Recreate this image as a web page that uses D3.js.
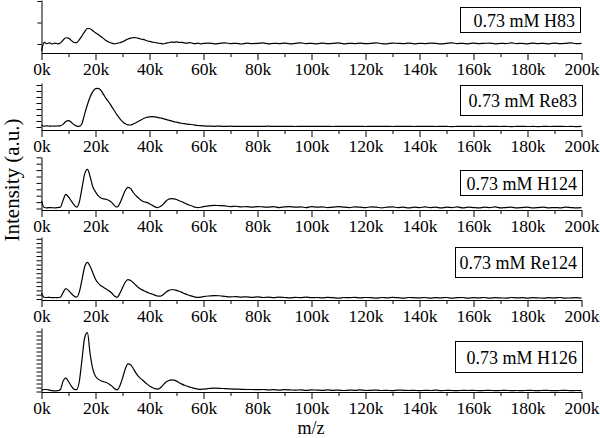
<!DOCTYPE html>
<html>
<head>
<meta charset="utf-8">
<script src="https://cdn.jsdelivr.net/npm/d3@7"></script>
<style>
  body { margin: 0; background: #fff; }
  #chart text { font-family: 'Liberation Serif', 'Times New Roman', serif !important; }
</style>
</head>
<body>
<svg id="chart" width="600" height="438"></svg>
<script>
// m/z sampling positions, in k
const mz = [0, 1, 2, 3, 4, 5, 6, 7, 8, 9, 10, 11, 12, 13, 14, 15, 16, 17, 18, 19,
  20, 21, 22, 23, 24, 25, 26, 27, 28, 29, 30, 31, 32, 33, 34, 35, 36, 37, 38, 39,
  40, 41, 42, 43, 44, 45, 46, 47, 48, 49, 50, 51, 52, 53, 54, 55, 56, 57, 58, 59, 60,
  62, 64, 66, 68, 70, 72, 74, 76, 78, 80, 82, 84, 86, 88, 90, 92, 94, 96, 98, 100,
  102, 104, 106, 108, 110, 112, 114, 116, 118, 120, 122, 124, 126, 128, 130, 132, 134, 136, 138, 140,
  142, 144, 146, 148, 150, 152, 154, 156, 158, 160, 162, 164, 166, 168, 170, 172, 174, 176, 178, 180,
  182, 184, 186, 188, 190, 192, 194, 196, 198, 200]

const xTicks = [0, 20, 40, 60, 80, 100, 120, 140, 160, 180, 200]
const xMinorTicks = [10, 30, 50, 70, 90, 110, 130, 150, 170, 190]

const sampleNames = ['0.73 mM H83', '0.73 mM Re83', '0.73 mM H124', '0.73 mM Re124', '0.73 mM H126']

// intensities (a.u.), one value per mz position
const h83 = [-0.33, 0.08, 0.02, 0.05, 0.0, 0.04, 0.01, 0.05, 0.18, 0.29,
  0.27, 0.17, 0.07, 0.06, 0.2, 0.38, 0.58, 0.72, 0.71, 0.62,
  0.52, 0.44, 0.35, 0.25, 0.15, 0.08, 0.04, 0.01, 0.03, 0.06,
  0.1, 0.17, 0.23, 0.27, 0.3, 0.29, 0.26, 0.22, 0.2, 0.15,
  0.12, 0.09, 0.07, 0.04, 0.03, 0.01, 0.03, 0.06, 0.09, 0.08,
  0.1, 0.07, 0.08, 0.05, 0.04, 0.06, 0.03, 0.02, 0.04, 0.01, 0.03,
  0.04, 0.01, 0.03, 0.05, 0.02, 0.03, 0.0, 0.04, 0.02, 0.03,
  0.05, 0.01, 0.03, 0.02, 0.04, 0.01, 0.03, 0.05, 0.02, 0.03,
  0.01, 0.04, 0.02, 0.03, 0.05, 0.01, 0.03, 0.02, 0.04, 0.02,
  0.03, 0.05, 0.02, 0.01, 0.04, 0.03, 0.02, 0.04, 0.01, 0.03,
  0.02, 0.04, 0.03, 0.01, 0.03, 0.05, 0.02, 0.03, 0.01, 0.04,
  0.02, 0.03, 0.04, 0.01, 0.03, 0.02, 0.05, 0.02, 0.03, 0.01,
  0.04, 0.02, 0.03, 0.01, 0.04, 0.02, 0.03, 0.05, 0.02, 0.03]

const re83 = [0.3, 0.15, 0.18, 0.15, 0.17, 0.15, 0.18, 0.2, 0.45, 0.9,
  1.05, 0.8, 0.4, 0.15, 0.1, 0.6, 2.2, 3.7, 5.0, 5.9,
  6.4, 6.45, 6.1, 5.4, 4.7, 4.1, 3.4, 2.7, 2.0, 1.4,
  0.9, 0.55, 0.35, 0.33, 0.5, 0.72, 0.95, 1.2, 1.45, 1.62,
  1.7, 1.72, 1.68, 1.6, 1.5, 1.4, 1.28, 1.15, 1.02, 0.9,
  0.8, 0.7, 0.62, 0.55, 0.48, 0.43, 0.38, 0.3, 0.25, 0.22, 0.18,
  0.15, 0.12, 0.14, 0.10, 0.13, 0.11, 0.12, 0.09, 0.12, 0.10,
  0.11, 0.13, 0.09, 0.12, 0.10, 0.11, 0.08, 0.12, 0.10, 0.11,
  0.09, 0.12, 0.10, 0.08, 0.11, 0.10, 0.12, 0.09, 0.10, 0.08,
  0.11, 0.09, 0.10, 0.12, 0.08, 0.10, 0.09, 0.11, 0.08, 0.10,
  0.09, 0.11, 0.08, 0.10, 0.09, 0.07, 0.10, 0.09, 0.11, 0.08,
  0.10, 0.08, 0.09, 0.11, 0.08, 0.10, 0.07, 0.09, 0.10, 0.08,
  0.09, 0.07, 0.10, 0.08, 0.09, 0.11, 0.08, 0.09, 0.07, 0.09]

const h124 = [1.2, 0.15, 0.1, 0.15, 0.12, 0.1, 0.15, 0.2, 1.3, 2.2,
  1.8, 1.2, 0.6, 0.2, 1.0, 3.2, 5.4, 6.1, 5.0, 3.4,
  2.6, 2.0, 1.65, 1.5, 1.45, 1.25, 0.95, 0.45, 0.2, 0.8,
  1.8, 2.8, 3.3, 3.1, 2.5, 2.0, 1.6, 1.25, 1.05, 0.95,
  0.75, 0.5, 0.25, 0.15, 0.3, 0.65, 1.1, 1.45, 1.55, 1.5,
  1.4, 1.2, 1.05, 0.85, 0.65, 0.5, 0.35, 0.2, 0.15, 0.2, 0.3,
  0.4, 0.5, 0.45, 0.4, 0.3, 0.35, 0.25, 0.3, 0.2, 0.3,
  0.25, 0.2, 0.3, 0.15, 0.25, 0.3, 0.2, 0.25, 0.15, 0.3,
  0.2, 0.25, 0.15, 0.2, 0.3, 0.2, 0.15, 0.25, 0.2, 0.15,
  0.25, 0.2, 0.1, 0.2, 0.25, 0.15, 0.2, 0.1, 0.2, 0.15,
  0.25, 0.15, 0.2, 0.1, 0.2, 0.15, 0.25, 0.1, 0.2, 0.15,
  0.1, 0.2, 0.15, 0.25, 0.1, 0.15, 0.2, 0.1, 0.15, 0.2,
  0.1, 0.15, 0.2, 0.1, 0.15, 0.1, 0.2, 0.15, 0.1, 0.15]

const re124 = [1.4, 0.4, 0.35, 0.4, 0.3, 0.35, 0.3, 0.4, 1.5, 2.4,
  2.0, 1.3, 0.7, 0.45, 1.6, 4.5, 7.5, 8.5, 7.6, 6.1,
  4.6, 3.7, 3.1, 2.7, 2.3, 1.9, 1.4, 0.7, 0.4, 1.3,
  2.6, 3.9, 4.5, 4.3, 3.8, 3.2, 2.6, 2.2, 1.9, 1.6,
  1.35, 1.15, 0.9, 0.7, 0.65, 1.0, 1.5, 1.95, 2.15, 2.15,
  2.0, 1.8, 1.55, 1.25, 1.0, 0.8, 0.6, 0.45, 0.4, 0.45, 0.55,
  0.7, 0.8, 0.75, 0.6, 0.5, 0.55, 0.45, 0.5, 0.4, 0.5,
  0.35, 0.45, 0.3, 0.45, 0.35, 0.25, 0.4, 0.3, 0.45, 0.3,
  0.35, 0.25, 0.4, 0.3, 0.2, 0.35, 0.3, 0.4, 0.25, 0.35,
  0.3, 0.2, 0.35, 0.25, 0.4, 0.3, 0.2, 0.35, 0.3, 0.25,
  0.35, 0.2, 0.3, 0.25, 0.35, 0.2, 0.3, 0.35, 0.2, 0.3,
  0.25, 0.35, 0.2, 0.3, 0.25, 0.2, 0.35, 0.25, 0.3, 0.2,
  0.3, 0.25, 0.2, 0.3, 0.25, 0.35, 0.2, 0.25, 0.3, 0.2]

const h126 = [0.3, 0.5, 0.5, 0.35, 0.2, 0.15, 0.2, 0.5, 2.6, 3.4,
  2.5, 1.4, 0.6, 0.45, 2.5, 8.0, 13.5, 14.7, 9.5, 5.6,
  3.8, 3.1, 2.7, 2.45, 2.25, 1.9, 1.4, 0.75, 0.4, 1.4,
  3.3, 5.6, 6.9, 6.7, 5.7, 4.6, 3.7, 3.1, 2.5, 1.9,
  1.4, 1.0, 0.7, 0.6, 0.9, 1.6, 2.3, 2.7, 2.9, 2.85,
  2.6, 2.2, 1.85, 1.55, 1.3, 1.1, 0.9, 0.7, 0.6, 0.55, 0.6,
  0.75, 0.85, 0.8, 0.7, 0.65, 0.6, 0.55, 0.5, 0.5, 0.45,
  0.5, 0.4, 0.45, 0.35, 0.45, 0.4, 0.35, 0.4, 0.3, 0.4,
  0.35, 0.3, 0.4, 0.3, 0.35, 0.25, 0.35, 0.3, 0.4, 0.25,
  0.3, 0.35, 0.25, 0.3, 0.2, 0.35, 0.3, 0.25, 0.3, 0.2,
  0.3, 0.25, 0.35, 0.2, 0.3, 0.25, 0.2, 0.3, 0.25, 0.3,
  0.2, 0.25, 0.3, 0.2, 0.25, 0.3, 0.2, 0.25, 0.2, 0.3,
  0.25, 0.2, 0.3, 0.25, 0.2, 0.25, 0.3, 0.2, 0.25, 0.2]

const spectra = [h83, re83, h124, re124, h126]

// panel placement (px): axis box, where zero sits, px per y unit, legend box
const layout = [
  { top: 0, bottom: 53, zero: 44, step: 21.5, tick: 4, box: [460, 7, 580, 32] },
  { top: 83, bottom: 130, zero: 127, step: 6, tick: 5, box: [460, 85, 582, 115] },
  { top: 157, bottom: 210, zero: 208.5, step: 6.4, tick: 5, box: [460, 170, 582, 195] },
  { top: 237, bottom: 300, zero: 299, step: 4.3, tick: 5, box: [455, 247, 582, 277] },
  { top: 328, bottom: 392, zero: 391.5, step: 4, tick: 5, box: [455, 341, 582, 372] }
]

const FONT = "'Liberation Serif', 'Times New Roman', serif"
const svg = d3.select('#chart')
  .attr('font-family', FONT)
  .style('font-family', FONT)
const x = d3.scaleLinear().domain([0, 200]).range([41.5, 581.5])

/**
 * Draws one stacked panel: its axes, the spectrum and the legend box.
 *
 * @param {number[]} values The intensities for the panel
 * @param {string} name The legend text
 * @param {object} l The panel layout
 */
function drawPanel (values, name, l) {
  const lo = (l.zero - l.bottom) / l.step
  const hi = (l.zero - l.top) / l.step
  const y = d3.scaleLinear().domain([lo, hi]).range([l.bottom, l.top])
  const g = svg.append('g')

  // x axis, major + minor ticks
  g.append('g')
    .attr('class', 'axis')
    .attr('transform', 'translate(0,' + l.bottom + ')')
    .call(d3.axisBottom(x).tickValues(xTicks).tickFormat((d) => d + 'k')
      .tickSize(7).tickPadding(3).tickSizeOuter(0))
  g.append('g')
    .attr('class', 'axis minor')
    .attr('transform', 'translate(0,' + l.bottom + ')')
    .call(d3.axisBottom(x).tickValues(xMinorTicks).tickFormat('').tickSize(4))
    .select('.domain').remove()

  // y axis, no labels
  g.append('g')
    .attr('class', 'axis')
    .attr('transform', 'translate(' + x(0) + ',0)')
    .call(d3.axisLeft(y).tickValues(d3.range(0, Math.floor(hi) + 1))
      .tickFormat('').tickSize(l.tick).tickSizeOuter(0))

  const line = d3.line()
    .x((d, i) => x(mz[i]))
    .y((d) => y(d))
    .curve(d3.curveMonotoneX)

  g.append('path')
    .datum(values)
    .attr('d', line)
    .attr('fill', 'none')
    .attr('stroke', '#000')
    .attr('stroke-width', 1.2)
    .attr('stroke-linejoin', 'round')

  const [bx0, by0, bx1, by1] = l.box
  g.append('rect')
    .attr('x', bx0 + 0.5).attr('y', by0 + 0.5)
    .attr('width', bx1 - bx0).attr('height', by1 - by0)
    .attr('fill', '#fff').attr('stroke', '#000').attr('stroke-width', 1)
  g.append('text')
    .attr('x', bx1 - 5)
    .attr('y', (by0 + by1) / 2 + 1)
    .attr('dy', '0.35em')
    .attr('text-anchor', 'end')
    .attr('font-family', FONT)
    .attr('font-size', 18)
    .text(name)
}

spectra.forEach((values, i) => drawPanel(values, sampleNames[i], layout[i]))

svg.selectAll('.axis').attr('font-family', FONT).attr('font-size', 17.5)
svg.selectAll('.axis path, .axis line').attr('stroke', '#000').attr('stroke-width', 1)
svg.selectAll('.axis text').attr('fill', '#000')

svg.append('text')
  .attr('transform', 'translate(19,180) rotate(-90)')
  .attr('text-anchor', 'middle')
  .attr('font-size', 21)
  .text('Intensity (a.u.)')

svg.append('text')
  .attr('x', 311)
  .attr('y', 434.3)
  .attr('text-anchor', 'middle')
  .attr('font-size', 18)
  .text('m/z')
</script>
</body>
</html>
